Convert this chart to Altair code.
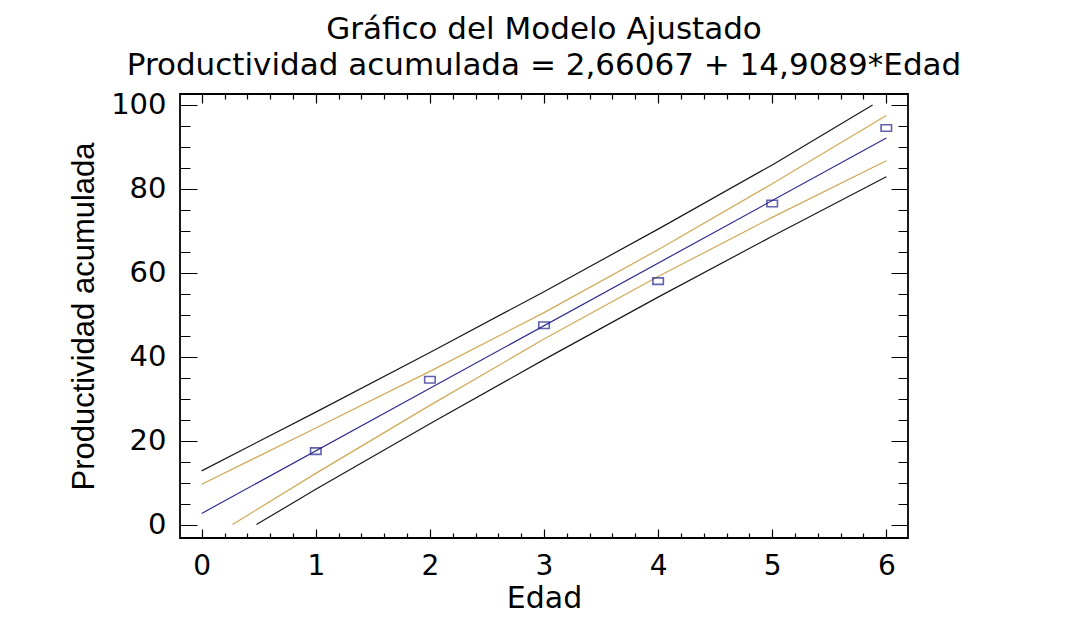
import altair as alt
import pandas as pd

# Observed data (Edad vs Productividad acumulada)
edad = [1, 2, 3, 4, 5, 6]
productividad = [17.5, 34.5, 47.5, 58.0, 76.5, 94.5]

fit_x = [0, 6]
fit_y = [2.66, 92.11]

# Confidence limits (orange)
ci_upper_x = [0, 1, 2, 3, 4, 5, 6]
ci_upper_y = [9.6, 23.0, 36.5, 50.5, 65.5, 81.2, 97.5]
ci_lower_x = [0.27, 1, 2, 3, 4, 5, 6]
ci_lower_y = [0.0, 12.2, 28.4, 44.2, 59.1, 73.2, 86.7]

# Prediction limits (black)
pi_upper_x = [0, 1, 2, 3, 4, 5, 5.88]
pi_upper_y = [12.8, 26.8, 41.0, 55.5, 70.4, 85.7, 100.0]
pi_lower_x = [0.48, 1, 2, 3, 4, 5, 6]
pi_lower_y = [0.0, 8.4, 24.0, 39.3, 54.2, 68.7, 82.9]

# Tick positions
x_ticks = [0, 0.2, 0.4, 0.6, 0.8, 1, 1.2, 1.4, 1.6, 1.8, 2, 2.2, 2.4, 2.6, 2.8,
           3, 3.2, 3.4, 3.6, 3.8, 4, 4.2, 4.4, 4.6, 4.8, 5, 5.2, 5.4, 5.6, 5.8, 6]
y_ticks = [0, 5, 10, 15, 20, 25, 30, 35, 40, 45, 50, 55, 60, 65, 70, 75, 80, 85,
           90, 95, 100]

W, H = 728, 444

rows = []
for name, xs_, ys_ in [
    ("pi_upper", pi_upper_x, pi_upper_y),
    ("pi_lower", pi_lower_x, pi_lower_y),
    ("ci_upper", ci_upper_x, ci_upper_y),
    ("ci_lower", ci_lower_x, ci_lower_y),
    ("fit", fit_x, fit_y),
]:
    for xv, yv in zip(xs_, ys_):
        rows.append({"serie": name, "x": xv, "y": yv})
lines_df = pd.DataFrame(rows)
pts_df = pd.DataFrame({"x": edad, "y": productividad})

major_x = "abs(datum.value - round(datum.value)) < 0.001"
major_y = "abs(datum.value / 20 - round(datum.value / 20)) < 0.001"

x_axis = alt.Axis(
    title="Edad",
    values=x_ticks,
    format=".0f",
    labelExpr=f"{major_x} ? datum.label : ''",
    labelOverlap=False,
    ticks=False,
    domain=False,
    grid=True,
    gridColor="black",
    gridOpacity=1,
    gridWidth=1.2,
    gridDash={"condition": {"test": major_x, "value": [9, H - 18]},
              "value": [5, H - 10]},
    labelFont="DejaVu Sans",
    labelFontSize=28,
    labelColor="black",
    labelPadding=14,
    titleFont="DejaVu Sans",
    titleFontSize=30,
    titleFontWeight="normal",
    titleColor="black",
    titlePadding=3,
)
y_axis = alt.Axis(
    title="Productividad acumulada",
    values=y_ticks,
    format=".0f",
    labelExpr=f"{major_y} ? datum.label : ''",
    labelOverlap=False,
    ticks=False,
    domain=False,
    grid=True,
    gridColor="black",
    gridOpacity=1,
    gridWidth=1.2,
    gridDash={"condition": {"test": major_y, "value": [17, W - 34]},
              "value": [10, W - 20]},
    labelFont="DejaVu Sans",
    labelFontSize=29,
    labelColor="black",
    labelPadding=14,
    titleFont="Liberation Sans",
    titleFontSize=31,
    titleFontWeight="normal",
    titleColor="black",
    titlePadding=10,
)

xs = alt.Scale(domain=[-0.19, 6.19], nice=False, zero=False)
ys = alt.Scale(domain=[-3.2, 102.6], nice=False, zero=False)

lines = alt.Chart(lines_df).mark_line(strokeWidth=1.2).encode(
    x=alt.X("x:Q", scale=xs, axis=x_axis),
    y=alt.Y("y:Q", scale=ys, axis=y_axis),
    color=alt.Color(
        "serie:N",
        scale=alt.Scale(
            domain=["pi_upper", "pi_lower", "ci_upper", "ci_lower", "fit"],
            range=["#1a1a1a", "#1a1a1a", "#cfa955", "#cfa955", "#2e2e8e"],
        ),
        legend=None,
    ),
    order=alt.Order("x:Q"),
)

points = alt.Chart(pts_df).mark_point(
    shape="M-1,-0.62L1,-0.62L1,0.62L-1,0.62Z",
    filled=False,
    size=110,
    color="#1f1f8a",
    strokeWidth=1.6,
).encode(
    x=alt.X("x:Q", scale=xs, axis=x_axis),
    y=alt.Y("y:Q", scale=ys, axis=y_axis),
)

chart = alt.layer(lines, points).properties(
    width=W,
    height=H,
    autosize=alt.AutoSizeParams(type="none"),
    padding={"left": 172, "top": 86, "right": 165, "bottom": 77},
    view=alt.ViewBackground(stroke="black", strokeWidth=1.8, strokeOpacity=1),
    title=alt.TitleParams(
        text=["Gráfico del Modelo Ajustado",
              "Productividad acumulada = 2,66067 + 14,9089*Edad"],
        font="DejaVu Sans",
        fontSize=31,
        fontWeight="normal",
        color="black",
        lineHeight=36,
        anchor="middle",
        offset=9,
    ),
).configure_view(
    stroke="black",
    strokeWidth=1.8,
    strokeOpacity=1,
).configure(background="white")

chart.save("out.html", embed_options={"renderer": "svg", "actions": False})
